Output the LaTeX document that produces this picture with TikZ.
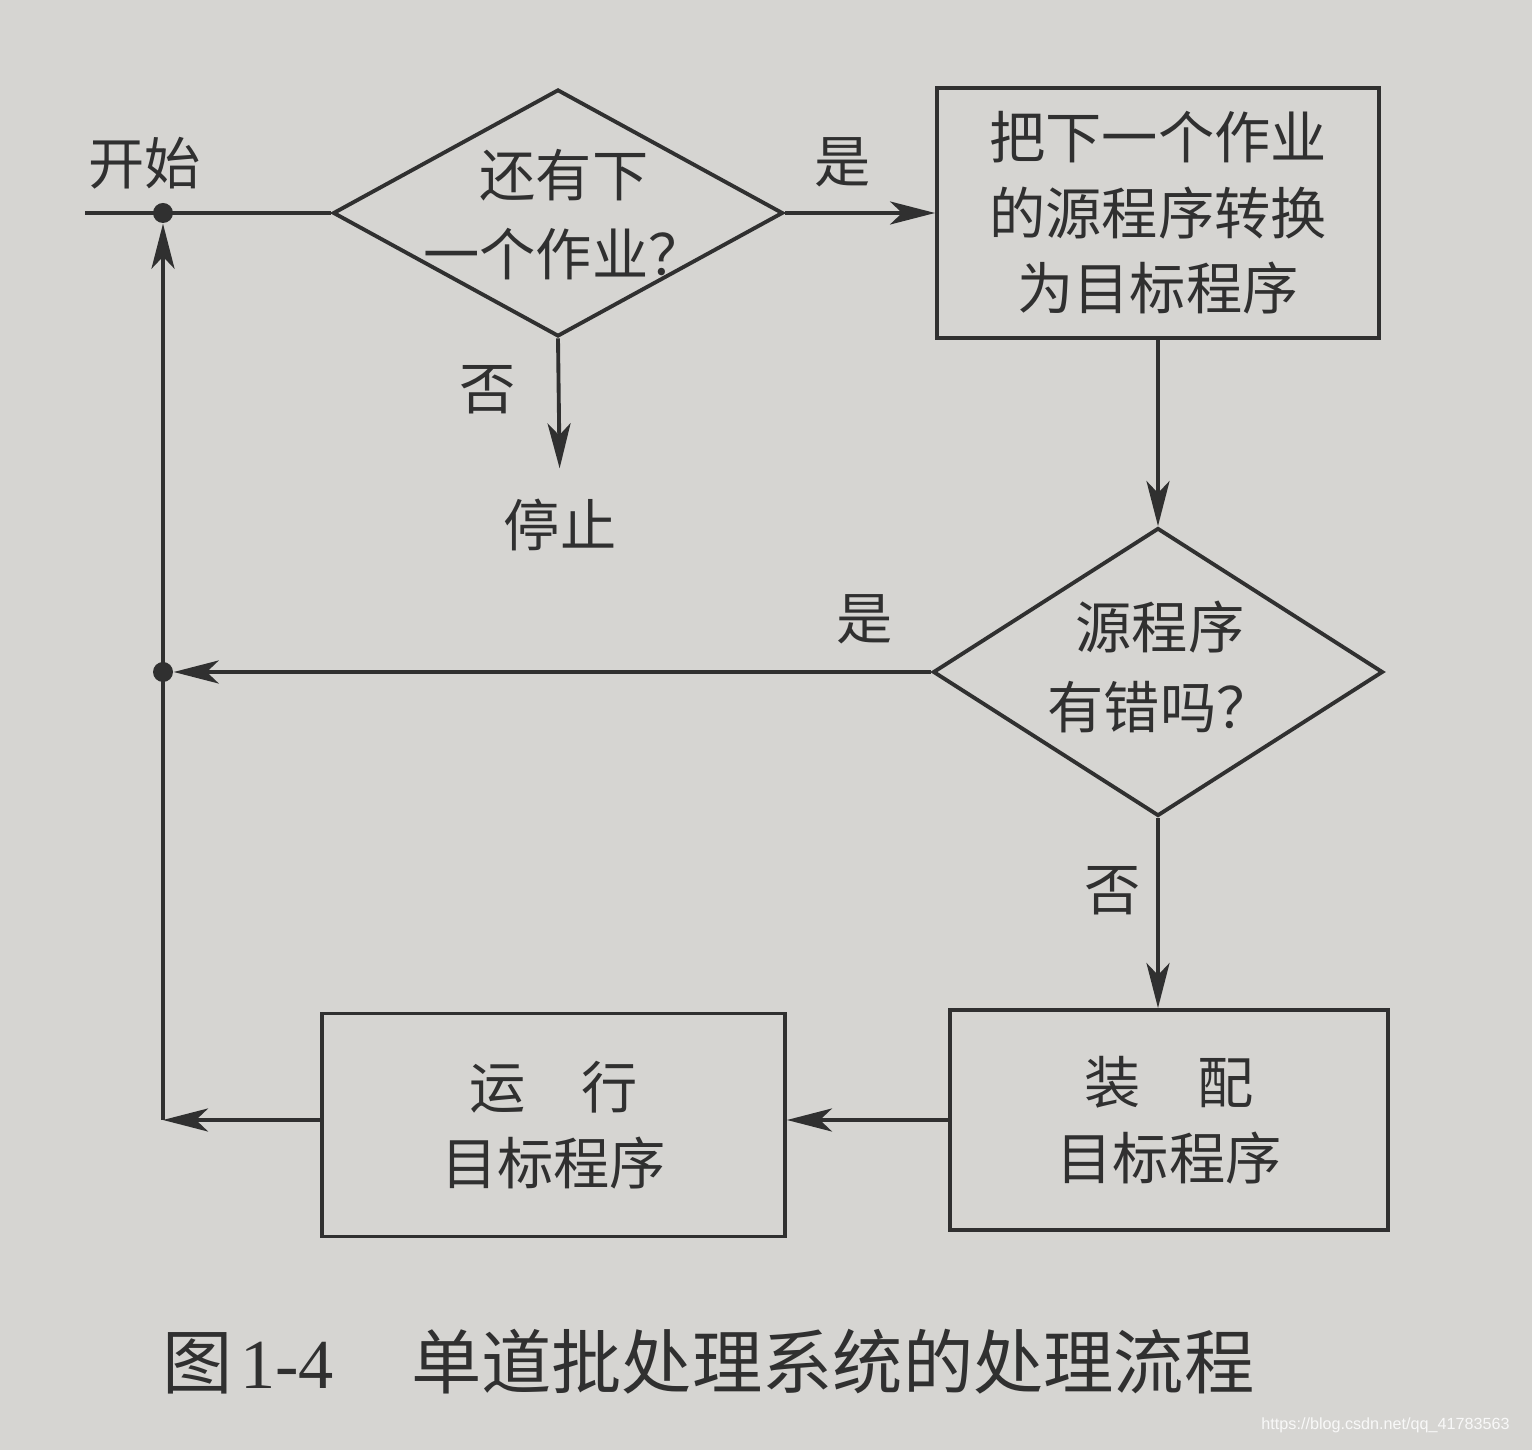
\documentclass[tikz,border=0pt]{standalone}
\usepackage{fontspec}
\setmainfont{Liberation Serif}
\newfontfamily\cjk{Noto Sans CJK SC}
\newfontfamily\wmfont{Liberation Sans}
\usetikzlibrary{positioning, arrows.meta, shapes.geometric}
\definecolor{paper}{RGB}{214,213,210}
\definecolor{ink}{RGB}{48,48,48}

\begin{document}
\begin{tikzpicture}[
  box/.style = {rectangle, draw=ink, line width=1.1pt, font=\cjk\fontsize{16}{21.5}\selectfont, align=center, text=ink},
  decision/.style = {diamond, draw=ink, line width=1.1pt, inner sep=0pt},
  txt/.style = {font=\cjk\fontsize{16}{22.5}\selectfont, align=center, text=ink, inner sep=0pt},
  arrow/.style = {-{Stealth[length=4.5mm, width=2.3mm, inset=1.2mm]}, draw=ink, line width=1.1pt},
  line/.style = {draw=ink, line width=1.1pt},
  dot/.style = {circle, fill=ink, inner sep=0pt, minimum size=2mm}
  ]

\fill[paper] (0,0) rectangle (15.32,-14.5);
\useasboundingbox (0,0) rectangle (15.32,-14.5);

\coordinate (entry) at (0.85,-2.13);
\node[dot] (join1) at (1.63,-2.13) {};
\node[txt] (start) at (1.45,-1.63) {开始};

\node[decision, minimum width=4.5cm, minimum height=2.47cm] (more) at (5.58,-2.13) {};
\node[txt] (moretxt) at (5.64,-2.15) {还有下\\一个作业？};
\node[txt] (yes1) at (8.43,-1.62) {是};
\node[txt] (no1) at (4.88,-3.9) {否};
\node[txt] (stop) at (5.6,-5.25) {停止};

\node[box, minimum width=4.42cm, minimum height=2.5cm] (convert) at (11.58,-2.13) {把下一个作业\\的源程序转换\\为目标程序};

\node[decision, minimum width=4.5cm, minimum height=2.88cm] (error) at (11.58,-6.72) {};
\node[txt] (errortxt) at (11.6,-6.67) {源程序\\有错吗？};
\node[txt] (yes2) at (8.65,-6.19) {是};
\node[txt] (no2) at (11.13,-8.91) {否};
\node[dot] (join2) at (1.63,-6.72) {};

\node[box, minimum width=4.38cm, minimum height=2.2cm] (load) at (11.69,-11.2) {装\quad 配\\目标程序};
\node[box, minimum width=4.63cm, minimum height=2.23cm] (run) at (5.535,-11.25) {运\quad 行\\目标程序};
\coordinate (corner) at (1.63,-11.2);

\draw[line] (entry) -- (more.west);
\draw[arrow] (more.east) -- (convert.west);
\draw[arrow, shorten >=0.3cm] (more.south) -- (stop.north);
\draw[arrow] (convert.south) -- (error.north);
\draw[arrow] (error.west) -- (join2);
\draw[arrow] (error.south) -- (error.south |- load.north);
\draw[arrow] (load.west) -- (load.west -| run.east);
\draw[arrow] (run.west |- corner) -- (corner);
\draw[arrow] (corner) -- (join1);

\node[anchor=west, inner sep=0pt, text=ink] (caption) at (1.62,-13.62) {\fontsize{20}{24}\selectfont\cjk 图\hspace{0.1em}{\rmfamily 1-4}\hspace{1.1em}单道批处理系统的处理流程};
\node[anchor=east, font=\wmfont\fontsize{4.6}{6}\selectfont, text=white, opacity=0.85] (mark) at (15.22,-14.25) {https://blog.csdn.net/qq\_41783563};

\end{tikzpicture}
\end{document}
